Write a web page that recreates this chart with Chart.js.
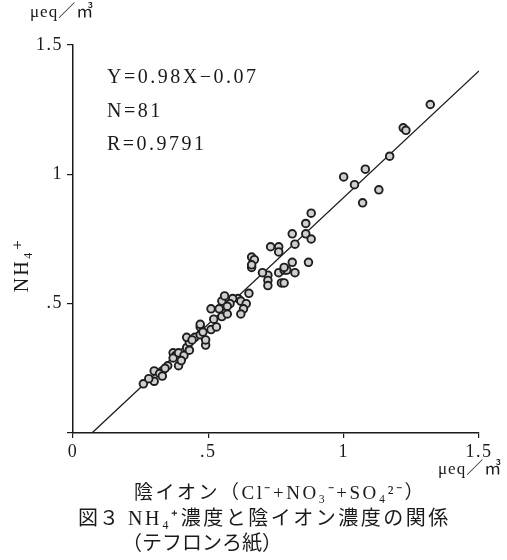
<!DOCTYPE html>
<html>
<head>
<meta charset="utf-8">
<script src="https://cdn.jsdelivr.net/npm/chart.js@4/dist/chart.umd.min.js"></script>
<style>
  html, body { margin: 0; padding: 0; background: #fff; }
  #wrap { width: 507px; height: 560px; }
</style>
</head>
<body>
<div id="wrap"><canvas id="chart" width="507" height="560"></canvas></div>
<script>
// anion concentration (x) and NH4+ concentration (y), ueq/m3
const ionX = [0.26, 0.30, 0.30, 0.33, 0.32, 0.35, 0.39, 0.37, 0.38, 0.37,
              0.39, 0.41, 0.42, 0.43, 0.42, 0.45, 0.47, 0.49, 0.47, 0.51,
              0.53, 0.52, 0.51, 0.54, 0.55, 0.55, 0.56, 0.61, 0.62, 0.64,
              0.63, 0.62, 0.65, 0.66, 0.67, 0.66, 0.66, 0.72, 0.72, 0.72,
              0.73, 0.76, 0.76, 0.76, 0.78, 0.79, 0.82, 0.77, 0.78, 0.81,
              0.87, 0.81, 0.86, 0.88, 0.82, 0.88, 0.86, 1.00, 1.08, 1.04,
              1.13, 1.07, 1.17, 1.22, 1.23, 1.32, 0.28, 0.48, 0.44, 0.40,
              0.34, 0.59, 0.57, 0.47, 0.58, 0.70, 0.43, 0.49, 0.33, 0.57,
              0.78];
const nh4Y = [0.19, 0.20, 0.24, 0.24, 0.23, 0.26, 0.26, 0.31, 0.30, 0.29,
              0.31, 0.30, 0.33, 0.35, 0.37, 0.37, 0.38, 0.34, 0.41, 0.40,
              0.41, 0.44, 0.48, 0.48, 0.45, 0.51, 0.53, 0.52, 0.51, 0.50,
              0.48, 0.46, 0.54, 0.68, 0.67, 0.64, 0.65, 0.61, 0.59, 0.57,
              0.72, 0.72, 0.70, 0.62, 0.63, 0.63, 0.62, 0.58, 0.58, 0.66,
              0.66, 0.77, 0.77, 0.75, 0.73, 0.85, 0.81, 0.99, 1.02, 0.96,
              0.94, 0.89, 1.07, 1.18, 1.17, 1.27, 0.21, 0.39, 0.36, 0.28,
              0.25, 0.52, 0.46, 0.42, 0.50, 0.62, 0.32, 0.36, 0.22, 0.49,
              0.64];

// regression line Y=0.98X-0.07, end points
const fitX = [0.07, 1.5];
const fitY = [0, 1.4];

const axisTicks = [0, 0.5, 1, 1.5];
const tickText = ['0', '.5', '1', '1.5'];

const serif = '"Liberation Serif", "DejaVu Serif", "Noto Sans CJK JP", serif';
const jp = '"Liberation Serif", "Noto Sans CJK JP", serif';
const ink = '#1a1a1a';

function spaced(ctx, text, x, y, gap) {
    ctx.letterSpacing = gap + 'px';
    ctx.fillText(text, x, y);
    ctx.letterSpacing = '0px';
}

const labelPlugin = {
    id: 'labels',
    beforeDraw(chart) {
        chart.ctx.letterSpacing = '1.5px';
    },
    afterDraw(chart) {
        const ctx = chart.ctx;
        ctx.save();
        ctx.fillStyle = ink;
        ctx.textBaseline = 'middle';
        ctx.textAlign = 'left';

        // stats box
        ctx.font = '20px ' + serif;
        spaced(ctx, 'Y=0.98X\u22120.07', 107, 78, 2.5);
        spaced(ctx, 'N=81', 107, 112, 2.5);
        spaced(ctx, 'R=0.9791', 107, 145, 2.5);

        // units
        ctx.font = '17px ' + jp;
        spaced(ctx, '\u03bceq\uff0f\u33a5', 30, 13, 1);
        spaced(ctx, '\u03bceq\uff0f\u33a5', 438, 470, 1);

        // y title
        ctx.save();
        ctx.translate(23, 265);
        ctx.rotate(-Math.PI / 2);
        ctx.textAlign = 'center';
        ctx.font = '20px ' + serif;
        spaced(ctx, 'NH\u2084\u207a', 0, 0, 2);
        ctx.restore();

        // x title and caption
        ctx.font = '19px ' + jp;
        spaced(ctx, '\u9670\u30a4\u30aa\u30f3\uff08Cl\u207b+NO\u2083\u207b+SO\u2084\u00b2\u207b\uff09', 134, 494, 2.5);
        ctx.font = '20px ' + jp;
        spaced(ctx, '\u56f3\uff13', 78, 520, 1);
        spaced(ctx, 'NH\u2084\u207a\u6fc3\u5ea6\u3068\u9670\u30a4\u30aa\u30f3\u6fc3\u5ea6\u306e\u95a2\u4fc2', 128, 520, 2.5);
        spaced(ctx, '\uff08\u30c6\u30d5\u30ed\u30f3\u308d\u7d19\uff09', 122, 545, 0);
        ctx.restore();
    }
};

new Chart(document.getElementById('chart'), {
    type: 'scatter',
    data: {
        datasets: [{
            label: 'NH4+',
            data: ionX.map((x, i) => ({ x: x, y: nh4Y[i] })),
            pointRadius: 3.8,
            pointBorderWidth: 1.9,
            pointBorderColor: '#1e1e1e',
            pointBackgroundColor: '#cfcfcf'
        }, {
            label: 'fit',
            data: fitX.map((x, i) => ({ x: x, y: fitY[i] })),
            showLine: true,
            pointRadius: 0,
            borderColor: ink,
            borderWidth: 1.3
        }]
    },
    options: {
        responsive: false,
        animation: false,
        layout: { padding: { left: 0, top: 45, right: 28, bottom: 0 } },
        plugins: {
            legend: { display: false },
            tooltip: { enabled: false }
        },
        scales: {
            x: {
                type: 'linear',
                min: 0,
                max: 1.5,
                afterFit: s => { s.height = 127; },
                afterBuildTicks: s => { s.ticks = axisTicks.map(v => ({ value: v })); },
                grid: { drawOnChartArea: false, tickLength: 5, color: ink, lineWidth: 1.2 },
                border: { color: ink, width: 1.5 },
                ticks: {
                    color: ink,
                    padding: 3,
                    maxRotation: 0,
                    font: { family: serif, size: 18 },
                    callback: (v) => tickText[axisTicks.indexOf(v)]
                }
            },
            y: {
                type: 'linear',
                min: 0,
                max: 1.5,
                afterFit: s => { s.width = 73; },
                afterBuildTicks: s => { s.ticks = axisTicks.map(v => ({ value: v })); },
                grid: { drawOnChartArea: false, tickLength: 6, color: ink, lineWidth: 1.2 },
                border: { color: ink, width: 1.5 },
                ticks: {
                    color: ink,
                    padding: 4,
                    font: { family: serif, size: 18 },
                    callback: (v) => v === 0 ? '' : tickText[axisTicks.indexOf(v)]
                }
            }
        }
    },
    plugins: [labelPlugin]
});
</script>
</body>
</html>
